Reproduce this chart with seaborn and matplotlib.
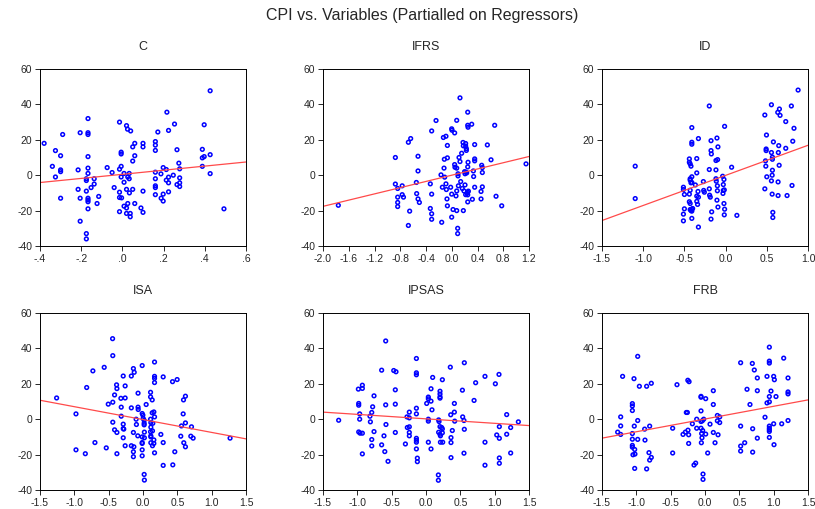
import numpy as np
import matplotlib
matplotlib.use('Agg')
import matplotlib.pyplot as plt
import seaborn as sns

# partial regression scatter points: (x, y)
c_pts = np.array([
    (-0.38, 18), (-0.325, 13.9), (-0.34, 5), (-0.325, -1), (-0.30, 11), (-0.30, 3), (-0.30, 2),
    (-0.30, -13), (-0.29, 23), (-0.215, 3), (-0.205, 24), (-0.215, -8), (-0.205, -13), (-0.205, -26),
    (-0.175, -2), (-0.175, -3), (-0.175, -9), (-0.175, -33), (-0.175, -36), (-0.167, 32), (-0.167, 24),
    (-0.167, 23), (-0.167, 10.5), (-0.167, 4), (-0.167, 1), (-0.167, -13), (-0.167, -14), (-0.167, -15),
    (-0.167, -19), (-0.152, -7), (-0.137, -2), (-0.137, -5), (-0.123, -16), (-0.115, -12), (-0.074, 4.3),
    (-0.05, 1.5), (-0.04, -7), (-0.014, 30), (-0.014, 3.4), (-0.014, -9.6), (-0.014, -12.6), (-0.014, -20.6),
    (-0.006, 13), (-0.006, 12), (-0.006, 5), (-0.006, -1), (-0.004, -12.8), (0.008, 1), (0.008, -4),
    (0.008, -17.5), (0.02, -18.5), (0.02, 28), (0.025, 26), (0.02, -8), (0.02, -21.6), (0.026, -1),
    (0.026, -16), (0.033, 1), (0.033, -2), (0.034, -10), (0.038, -21.6), (0.038, -23.5), (0.04, 25),
    (0.05, 8), (0.05, 16), (0.05, -8), (0.06, 18), (0.06, 11), (0.06, -16), (0.09, -18.5), (0.1, 18),
    (0.1, 16), (0.1, -9), (0.1, -21), (0.16, 19), (0.16, 17), (0.16, 14), (0.16, 1.7), (0.16, -2),
    (0.16, -6), (0.16, -7), (0.16, -11), (0.172, 24.4), (0.187, 0.75), (0.188, -13), (0.198, 4.3),
    (0.198, -10.7), (0.198, -14.6), (0.213, 3.2), (0.213, -2.8), (0.216, 35.6), (0.224, -4.3),
    (0.224, -1.1), (0.224, 25.3), (0.224, -9.4), (0.247, 0), (0.253, 28.9), (0.265, 14.4), (0.265, -5.3),
    (0.274, 6.8), (0.278, 3.6), (0.278, -1.5), (0.278, -4.3), (0.278, -6.4), (0.388, 14.6), (0.388, 9.8),
    (0.388, 5), (0.397, 10.5), (0.397, 28.5), (0.426, 47.7), (0.426, 11.6), (0.426, 0.9), (0.493, -19),
])

ifrs_pts = np.array([
    (-1.762, -17), (-0.876, 10), (-0.876, -5), (-0.84, -7.5), (-0.84, -12.4), (-0.84, -15.4), (-0.84, -17.7),
    (-0.77, -6), (-0.77, -11), (-0.75, -12.4), (-0.674, 18.6), (-0.654, -20.3), (-0.638, 20.7), (-0.674, -28.4),
    (-0.55, -4.1), (-0.545, -10.4), (-0.524, 10.7), (-0.524, 2.4), (-0.524, -13.4), (-0.503, -15.4),
    (-0.333, -4.9), (-0.333, -18.8), (-0.312, 25), (-0.312, -10.7), (-0.312, -21.8), (-0.312, -24.9),
    (-0.244, 30.9), (-0.167, 0.2), (-0.156, -26.6), (-0.146, -6.8), (-0.13, 21.3), (-0.12, 4), (-0.115, 9),
    (-0.11, -1.1), (-0.09, 22), (-0.09, -4.9), (-0.084, -8.1), (-0.074, -13.4), (-0.068, 16.8), (-0.068, 9.8),
    (-0.068, -17.3), (-0.017, -6.8), (-0.001, -23.7), (-0.001, -10.7), (-0.001, 26.2), (0.004, 25.4),
    (0.02, -19.4), (0.045, 23.9), (0.045, 6), (0.05, 4.5), (0.066, -11.7), (0.077, 31), (0.077, 4),
    (0.077, -8.9), (0.077, -20), (0.097, 0.8), (0.097, -0.4), (0.103, -6), (0.092, -30), (0.092, -33),
    (0.113, 10), (0.128, 43.7), (0.128, 7.7), (0.139, -3.6), (0.154, 12.4), (0.164, -7.5), (0.175, 18.5),
    (0.18, 16.6), (0.18, -20), (0.19, -8.9), (0.2, 2), (0.206, 0.8), (0.206, -5.5), (0.216, 17.9),
    (0.216, 16.4), (0.227, 15), (0.227, 14), (0.216, -11), (0.222, 1.7), (0.232, 1.3), (0.237, -10.2),
    (0.248, 35.6), (0.248, 28.2), (0.253, 27.1), (0.248, 4.7), (0.253, 7.3), (0.248, -9.6), (0.248, -11.1),
    (0.248, -15.1), (0.258, -9), (0.31, 28.8), (0.32, -13.6), (0.336, 2.4), (0.34, -0.75), (0.356, 17.3),
    (0.356, 9.2), (0.356, 8.1), (0.356, -6.8), (0.455, -9.2), (0.455, -13.4), (0.465, 5.6), (0.475, 4.3),
    (0.475, 1.5), (0.475, -6.6), (0.553, 17.1), (0.61, 8.7), (0.667, 28.2), (0.688, -11.9), (0.776, -17.3),
    (1.154, 6.4),
])

id_pts = np.array([
    (-1.097, 5.1), (-1.097, -13.2), (-0.512, -6.8), (-0.512, -8.1), (-0.5, -10.9), (-0.512, -22),
    (-0.512, -25.8), (-0.5, -19), (-0.44, 9.2), (-0.44, 7.3), (-0.43, 6.4), (-0.42, 5.1), (-0.43, -2),
    (-0.43, -2.8), (-0.42, -4.3), (-0.43, -8.5), (-0.44, -10.7), (-0.44, -15), (-0.43, -16), (-0.43, -19.4),
    (-0.42, -20), (-0.41, -20.3), (-0.41, -19.2), (-0.4, -18.8), (-0.41, -24.4), (-0.41, 26.9), (-0.41, 18.6),
    (-0.41, 17.5), (-0.41, -0.9), (-0.41, -4.1), (-0.367, -5.5), (-0.35, 9.4), (-0.35, 1.3), (-0.35, -11.8),
    (-0.35, -14.8), (-0.34, -16.5), (-0.33, -12.4), (-0.335, -9.2), (-0.33, -29.3), (-0.33, 20.7),
    (-0.27, -3.6), (-0.266, -8.6), (-0.258, -9.6), (-0.198, 39.1), (-0.198, 3.2), (-0.198, -7.7),
    (-0.194, -11.3), (-0.186, -12.4), (-0.177, 19.5), (-0.177, 13.9), (-0.173, 12), (-0.177, -24.8),
    (-0.169, -20.7), (-0.117, -2), (-0.113, -3.4), (-0.117, 3), (-0.117, 8.3), (-0.105, 21), (-0.105, -14.1),
    (-0.1, -8.8), (-0.1, -6), (-0.097, 8.8), (-0.093, 16), (-0.093, -18), (-0.036, -0.6), (-0.028, -5.3),
    (-0.028, -8.6), (-0.032, -10.3), (-0.02, -2.4), (-0.02, -16), (-0.016, -8.3), (-0.012, 27.6),
    (-0.012, -19.2), (-0.016, -22.4), (0.073, 4.5), (0.137, -22.7), (0.476, 34), (0.476, -7.7), (0.496, 22.7),
    (0.492, 14.8), (0.492, 13.9), (0.484, 8.1), (0.488, 5.1), (0.5, -0.9), (0.556, 39.8), (0.556, 12.8),
    (0.568, 10.2), (0.568, 9), (0.565, 0), (0.556, -3.2), (0.565, -10.7), (0.568, 2.8), (0.573, -21),
    (0.573, -23.9), (0.58, 18.8), (0.637, -3.8), (0.64, 12.8), (0.645, 16.7), (0.65, 5.6), (0.637, -11.5),
    (0.633, 35.5), (0.653, 37.4), (0.661, 33.8), (0.73, 30.3), (0.73, 15.2), (0.746, -11.5), (0.798, 39.1),
    (0.815, 19.2), (0.806, -5.8), (0.83, 26.5), (0.88, 48.1),
])

isa_pts = np.array([
    (-1.258, 12), (-0.976, 3), (-0.976, -17.3), (-0.84, -19.5), (-0.82, 17.9), (-0.70, -13.2), (-0.73, 27.3),
    (-0.565, 29.3), (-0.535, -16.2), (-0.506, 8.5), (-0.443, 45.5), (-0.44, 35.9), (-0.44, 9.6), (-0.44, -1.7),
    (-0.414, 13.7), (-0.414, -6), (-0.385, 19.4), (-0.38, 17.3), (-0.38, -7.5), (-0.38, -19.5), (-0.322, 11.8),
    (-0.317, 6.8), (-0.317, 1.7), (-0.288, 24.4), (-0.288, -2.8), (-0.288, -5.3), (-0.28, -5.6), (-0.288, -10.5),
    (-0.26, 18.8), (-0.26, 12), (-0.26, -15), (-0.17, 24.4), (-0.17, 6.4), (-0.17, -15), (-0.14, 28.6),
    (-0.128, 26.5), (-0.14, -7.5), (-0.133, -15.6), (-0.14, -18.4), (-0.14, -21.2), (-0.1, 0), (-0.096, -3),
    (-0.072, 14.7), (-0.072, 6.8), (-0.07, 5.5), (-0.076, -9.4), (-0.012, 30.3), (-0.012, 3.2), (-0.002, 2.3),
    (-0.012, -10), (-0.012, -13.2), (-0.012, -13.7), (-0.012, -17.3), (-0.012, -20.7), (0.003, 0.4),
    (0.017, -0.6), (0.017, -2.3), (0.017, -3.2), (0.02, -7.3), (0.02, -10.5), (0.017, -31.2), (0.02, -34.4),
    (0.046, 8.3), (0.11, 15.2), (0.11, 12.6), (0.11, 0), (0.114, -1.9), (0.114, -4.5), (0.11, -7.1),
    (0.114, -9.4), (0.114, -10), (0.114, -13.3), (0.134, 10.9), (0.134, 3.6), (0.138, -15), (0.138, -6.6),
    (0.143, -2.3), (0.158, 4.1), (0.158, -11.7), (0.158, -13.7), (0.168, 32.3), (0.168, 24.2), (0.168, 23.1),
    (0.168, 20.7), (0.168, 1.3), (0.168, -19), (0.26, -8.6), (0.294, 23.9), (0.294, -13.2), (0.294, -26.1),
    (0.43, 21.2), (0.434, -25.8), (0.463, -18.4), (0.497, 22.4), (0.55, -9.6), (0.56, -3.8), (0.59, 10.9),
    (0.585, 3), (0.594, -13.3), (0.618, 13), (0.618, -2.1), (0.618, -15.6), (0.696, -9.6), (0.706, -4.3),
    (0.73, -10.7), (1.268, -10.7),
])

ipsas_pts = np.array([
    (-1.272, -0.6), (-0.985, 17), (-0.98, 8.9), (-0.98, 7.9), (-0.98, -7.2), (-0.966, 3), (-0.966, 0),
    (-0.96, -7.9), (-0.927, 19.2), (-0.927, 17.4), (-0.927, -7.9), (-0.927, -19.6), (-0.816, 1.7),
    (-0.81, -1.5), (-0.79, 3.8), (-0.79, -11.5), (-0.79, -15.1), (-0.777, 7), (-0.757, 13.2), (-0.757, -7),
    (-0.646, 27.7), (-0.646, -14.5), (-0.612, -9.4), (-0.6, -18.3), (-0.587, 44.2), (-0.587, 8.1),
    (-0.583, -3), (-0.553, -23.8), (-0.47, 27.5), (-0.437, 26.8), (-0.447, 16.6), (-0.447, 8.5),
    (-0.447, -7.5), (-0.3, -14), (-0.277, 1.3), (-0.272, -4.7), (-0.243, 4), (-0.243, 0.75), (-0.243, -4.3),
    (-0.243, -7.5), (-0.243, -9.4), (-0.14, 6.2), (-0.14, 3), (-0.14, 34.3), (-0.14, 26.2), (-0.14, 25.1),
    (-0.14, -10.8), (-0.14, -11.9), (-0.14, -13), (-0.14, -16.8), (-0.126, -22), (-0.126, -24),
    (0.01, 8.9), (0.034, 12.5), (0.034, 11.5), (0.034, 0), (0.034, -1.1), (0.034, -13), (0.073, 17.2),
    (0.073, 10.2), (0.073, -16.8), (0.087, 5.3), (0.097, 23.6), (0.184, -0.4), (0.19, -1.3), (0.184, -7.4),
    (0.18, -31.5), (0.18, -34.5), (0.204, 15.8), (0.204, 14.2), (0.204, 12.6), (0.204, 11.9), (0.204, -4.2),
    (0.204, -8.5), (0.21, -9.4), (0.21, -13), (0.228, -4.7), (0.238, -5.5), (0.238, -7.7), (0.238, 22.3),
    (0.243, -13), (0.354, 29.4), (0.36, 2.5), (0.364, -10.4), (0.364, -13.2), (0.364, -21.7), (0.383, -6.4),
    (0.413, 8.9), (0.413, 4), (0.418, -1.1), (0.53, 16.4), (0.534, 1.3), (0.553, -0.75), (0.558, 31.9),
    (0.558, -5.7), (0.553, -19.2), (0.7, 10.6), (0.723, 20.6), (0.859, 24.2), (0.859, -13), (0.859, -26),
    (1.01, 20), (1.03, -8.9), (1.063, 25.3), (1.068, -4.2), (1.068, -10.8), (1.068, -21.9), (1.068, -24.9),
    (1.175, 2.6), (1.175, -8.5), (1.233, -4.7), (1.233, -19.1), (1.345, -1.5),
])

frb_pts = np.array([
    (-1.272, -7.3), (-1.228, 1.3), (-1.228, -3.8), (-1.228, -8.6), (-1.2, 24.2), (-1.058, 8.8), (-1.058, 7.5),
    (-1.058, 4.9), (-1.058, -8.1), (-1.058, -11.3), (-1.058, -14.8), (-1.058, -15.8), (-1.049, -20.1),
    (-1.034, 22.9), (-1.03, -3.9), (-1.024, -17.1), (-1.02, -19.7), (-1.024, -27.8), (-0.98, 35.5),
    (-0.98, -0.75), (-0.98, -11.4), (-0.956, 18.6), (-0.879, -5.6), (-0.874, -11.8), (-0.85, 18.6),
    (-0.85, -28.1), (-0.816, -18.9), (-0.806, -3.9), (-0.806, -23.1), (-0.782, 20.3), (-0.782, -21.6),
    (-0.471, -5.1), (-0.471, -19.1), (-0.408, 19.5), (-0.32, -8.6), (-0.286, -7.3), (-0.272, 3.8),
    (-0.257, 3.8), (-0.248, -6.2), (-0.238, -8.8), (-0.25, 22), (-0.232, 21.2), (-0.238, -13.7),
    (-0.184, -2.6), (-0.16, -25.9), (-0.136, -24.8), (-0.121, 0), (-0.121, -5.1), (-0.058, 12.4),
    (-0.058, 12.9), (-0.058, 4.7), (-0.058, -1.3), (-0.058, -5.1), (-0.053, -13.3), (-0.049, -8.1),
    (-0.044, -10.5), (-0.039, -0.9), (-0.034, -6.4), (-0.019, 0), (-0.029, -31), (-0.029, -34),
    (0.01, 11.6), (0.01, -8.4), (0.039, -19.1), (0.073, -2.8), (0.121, 16.1), (0.121, 8.3), (0.121, -7.5),
    (0.146, -13.3), (0.18, 2.1), (0.18, -0.9), (0.19, -8.8), (0.214, 1.3), (0.214, -1.9), (0.519, 31.9),
    (0.519, -3.9), (0.519, -15.2), (0.519, -18), (0.578, -13.3), (0.612, 16.9), (0.655, 8.3), (0.689, 31.5),
    (0.694, -5.4), (0.694, -18.6), (0.718, 27.8), (0.762, 23.3), (0.762, 16.1), (0.762, -10.7), (0.874, 1.1),
    (0.903, 24.2), (0.903, 9.2), (0.937, 9.8), (0.937, 40.7), (0.937, 32.8), (0.937, 31.7), (0.937, 12.8),
    (0.937, -3.9), (0.937, -5.1), (0.937, -6), (0.937, -6.9), (0.937, -10.3), (0.961, 15.9), (1.0, 24.2),
    (1.01, 22.3), (1.0, -2.6), (1.005, -14.4), (1.034, 12.8), (1.117, -2.6), (1.146, 34.5), (1.209, 23.3),
    (1.209, 15.4), (1.209, 14.3), (1.209, -0.75),
])

titles = ['C', 'IFRS', 'ID', 'ISA', 'IPSAS', 'FRB']
points = [c_pts, ifrs_pts, id_pts, isa_pts, ipsas_pts, frb_pts]
# fitted line (intercept, slope) as seen in each panel
intercepts = [0.5, 0.0, -0.1, -0.2, 0.2, 0.1]
slopes = [11.6, 8.8, 17.0, -7.27, -2.53, 7.2]

xticks = [
    [-0.4, -0.2, 0.0, 0.2, 0.4, 0.6],
    [-2.0, -1.6, -1.2, -0.8, -0.4, 0.0, 0.4, 0.8, 1.2],
    [-1.5, -1.0, -0.5, 0.0, 0.5, 1.0],
    [-1.5, -1.0, -0.5, 0.0, 0.5, 1.0, 1.5],
    [-1.5, -1.0, -0.5, 0.0, 0.5, 1.0, 1.5],
    [-1.5, -1.0, -0.5, 0.0, 0.5, 1.0, 1.5],
]
xticklabels = [
    ['-.4', '-.2', '.0', '.2', '.4', '.6'],
    ['-2.0', '-1.6', '-1.2', '-0.8', '-0.4', '0.0', '0.4', '0.8', '1.2'],
    ['-1.5', '-1.0', '-0.5', '0.0', '0.5', '1.0'],
    ['-1.5', '-1.0', '-0.5', '0.0', '0.5', '1.0', '1.5'],
    ['-1.5', '-1.0', '-0.5', '0.0', '0.5', '1.0', '1.5'],
    ['-1.5', '-1.0', '-0.5', '0.0', '0.5', '1.0', '1.5'],
]
yticks = [-40, -20, 0, 20, 40, 60]

sns.set_style('white')
plt.rcParams['font.family'] = ['Liberation Sans', 'DejaVu Sans']

fig = plt.figure(figsize=(8.15, 5.09), dpi=100)
fig.suptitle('CPI vs. Variables (Partialled on Regressors)', fontsize=11.5,
             x=0.518, y=0.97, va='center')

lefts = [40, 323, 602]
tops = [69, 313]
w, h = 206, 177

for i in range(6):
    r, col = divmod(i, 3)
    ax = fig.add_axes([lefts[col] / 815, 1 - (tops[r] + h) / 509, w / 815, h / 509])
    pts = points[i]
    sns.scatterplot(x=pts[:, 0], y=pts[:, 1], ax=ax, marker='o', s=7,
                    facecolor='none', edgecolor='blue', linewidth=1.1)
    x0, x1 = xticks[i][0], xticks[i][-1]
    xs = np.array([x0, x1])
    sns.lineplot(x=xs, y=intercepts[i] + slopes[i] * xs, ax=ax, color='#ff4a4a', linewidth=0.9)
    ax.set_xlim(x0, x1)
    ax.set_ylim(-40, 60)
    ax.set_xticks(xticks[i])
    ax.set_xticklabels(xticklabels[i])
    ax.set_yticks(yticks)
    ax.set_yticklabels([str(v) for v in yticks])
    ax.tick_params(axis='both', which='both', direction='out', length=3.5, width=0.7,
                   labelsize=7.5, pad=2, bottom=True, left=True, top=False, right=False)
    for s in ax.spines.values():
        s.set_color('black')
        s.set_linewidth(0.7)
    ax.set_title(titles[i], fontsize=9, pad=14)

fig.savefig('out.png', dpi=100)
